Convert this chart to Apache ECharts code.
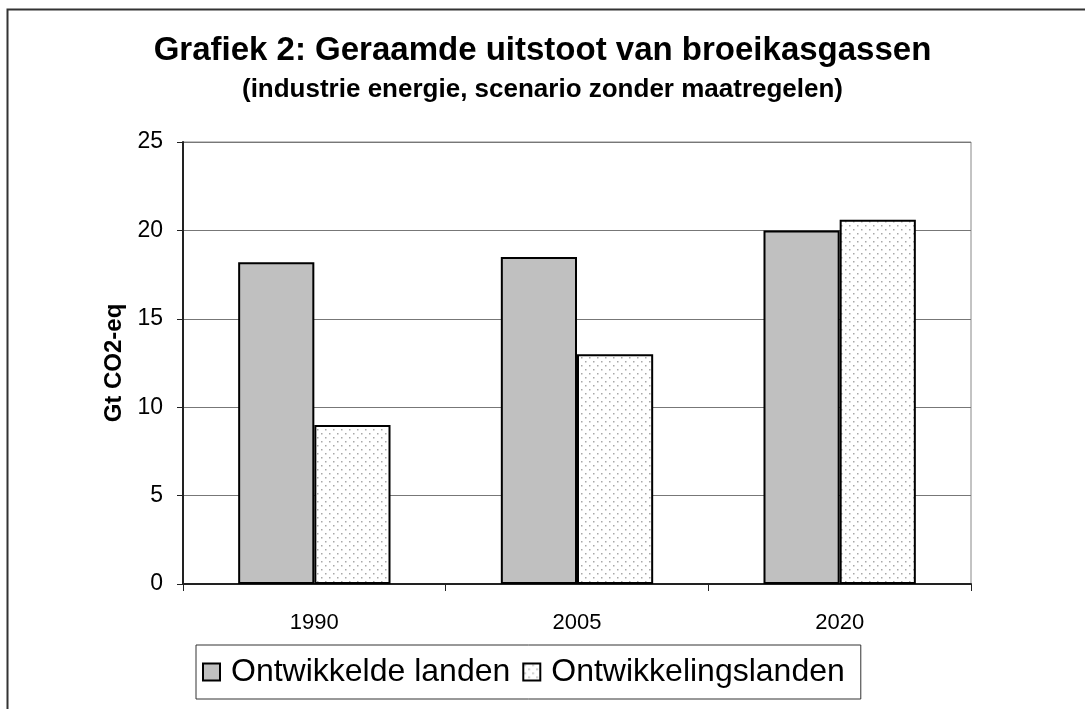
<!DOCTYPE html>
<html><head><meta charset="utf-8">
<script src="https://cdn.jsdelivr.net/npm/echarts@6/dist/echarts.min.js"></script>
<style>html,body{margin:0;padding:0;background:#fff}#c{width:1085px;height:709px}</style>
</head><body><div id="c"></div>
<script>
var categories = ['1990', '2005', '2020'];
var ontwikkelde = [18.2, 18.5, 20.0];
var ontwikkelings = [9.0, 13.0, 20.6];
var seriesNames = ['Ontwikkelde landen', 'Ontwikkelingslanden'];
var yTicks = [0, 5, 10, 15, 20, 25];

var cv = document.createElement('canvas');
cv.width = 8; cv.height = 8;
var cx = cv.getContext('2d');
cx.fillStyle = '#ffffff'; cx.fillRect(0, 0, 8, 8);
cx.fillStyle = '#a8a8a8';
cx.fillRect(1, 1, 1.5, 1.5);
cx.fillRect(5, 5, 1.5, 1.5);

var F = 'Liberation Sans, Arial, sans-serif';
var chart = echarts.init(document.getElementById('c'));
chart.setOption({
  animation: false,
  backgroundColor: '#fff',
  title: [{
    text: 'Grafiek 2: Geraamde uitstoot van broeikasgassen',
    left: 'center', top: 34, padding: 0,
    textStyle: {fontFamily: F, fontWeight: 'bold', fontSize: 33, color: '#000'}
  }, {
    text: '(industrie energie, scenario zonder maatregelen)',
    left: 'center', top: 77, padding: 0,
    textStyle: {fontFamily: F, fontWeight: 'bold', fontSize: 26, color: '#000'}
  }],
  legend: {
    left: 196, top: 645,
    padding: [11, 16, 11, 6],
    borderColor: '#333', borderWidth: 1,
    itemWidth: 17, itemHeight: 17, itemGap: 12,
    data: seriesNames.map(function (n) { return {name: n, icon: 'rect'}; }),
    textStyle: {fontFamily: F, fontSize: 32, color: '#000', padding: [0, 0, 0, 6]}
  },
  grid: {left: 183, right: 114, top: 142, bottom: 125, show: true, borderColor: '#888', borderWidth: 1},
  xAxis: {
    type: 'category', data: categories,
    axisLine: {lineStyle: {color: '#222', width: 2}},
    axisTick: {show: true, length: 7, lineStyle: {color: '#222'}},
    axisLabel: {fontFamily: F, fontSize: 22, color: '#000', margin: 28}
  },
  yAxis: {
    type: 'value', min: 0, max: 25, interval: 5,
    name: 'Gt CO2-eq', nameLocation: 'middle', nameGap: 49,
    nameTextStyle: {fontFamily: F, fontWeight: 'bold', fontSize: 24, color: '#000'},
    axisLine: {show: true, lineStyle: {color: '#222', width: 2}},
    axisTick: {show: true, length: 6, lineStyle: {color: '#222'}},
    axisLabel: {fontFamily: F, fontSize: 23, color: '#000', margin: 20,
      formatter: function (v) { return yTicks.indexOf(v) >= 0 ? String(v) : ''; }},
    splitLine: {lineStyle: {color: '#777', width: 1}}
  },
  series: [{
    name: seriesNames[0], type: 'bar', data: ontwikkelde,
    barGap: '0%', barCategoryGap: '42%',
    itemStyle: {color: '#c0c0c0', borderColor: '#000', borderWidth: 2}
  }, {
    name: seriesNames[1], type: 'bar', data: ontwikkelings,
    itemStyle: {color: {image: cv, repeat: 'repeat'}, borderColor: '#000', borderWidth: 2}
  }],
  graphic: [{
    type: 'rect', shape: {x: 7.5, y: 9.5, width: 1200, height: 900},
    style: {fill: 'none', stroke: '#333', lineWidth: 2}, silent: true
  }]
});
</script></body></html>
